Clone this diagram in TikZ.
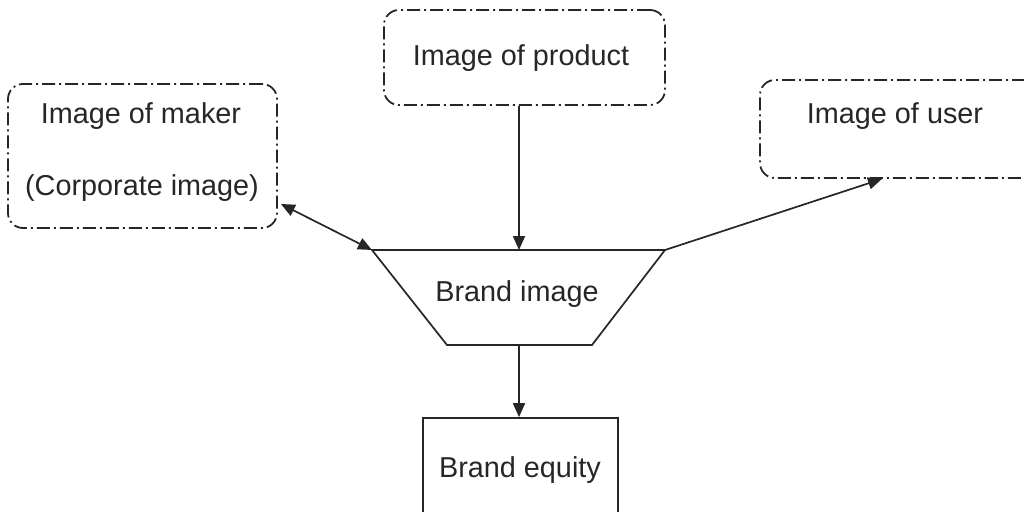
\documentclass[tikz,border=0pt]{standalone}
\usepackage{fontspec}
\setmainfont{Liberation Sans}
\usetikzlibrary{arrows.meta}
\definecolor{ink}{HTML}{262626}
\begin{document}
\begin{tikzpicture}[x=1pt,y=-1pt,
  dbox/.style={draw=ink, line width=1.8pt, rounded corners=15pt,
    dash pattern=on 13pt off 4pt on 2pt off 4pt, inner sep=0pt},
  sbox/.style={draw=ink, line width=1.7pt, inner sep=0pt},
  txt/.style={text=ink, font=\fontsize{28.8}{34}\selectfont, inner sep=0pt},
  arr/.style={draw=ink, line width=1.7pt, -{Triangle[length=14pt,width=12pt]}},
  arrb/.style={draw=ink, line width=1.7pt, {Triangle[length=14pt,width=12pt]}-{Triangle[length=14pt,width=12pt]}}]
\useasboundingbox (0,0) rectangle (1024,511);
\clip (0,0) rectangle (1024,511);
% boxes
\node[dbox, minimum width=281pt, minimum height=95pt] (prod) at (524.5,57.5) {};
\node[txt] (prodt) at (521,58) {Image of product};
\node[dbox, minimum width=269pt, minimum height=144pt] (maker) at (142.5,156) {};
\node[txt] (makert1) at (141,116) {Image of maker};
\node[txt] (makert2) at (142,188) {(Corporate image)};
\node[dbox, minimum width=280pt, minimum height=98pt] (user) at (900,129) {};
\node[txt] (usert) at (895,116) {Image of user};
% trapezoid
\coordinate (tl) at (372,250);
\coordinate (tr) at (665,250);
\coordinate (br) at (592,345);
\coordinate (bl) at (447,345);
\coordinate (ti) at (519,250);
\coordinate (bi) at (519,345);
\draw[draw=ink, line width=1.7pt, line join=miter] (tl) -- (tr) -- (br) -- (bl) -- cycle;
\node[txt] (brand) at (517,294) {Brand image};
% brand equity
\node[sbox, minimum width=195pt, minimum height=110pt] (eq) at (520.5,473) {};
\node[txt] (eqt) at (520,470) {Brand equity};
% connectors
\draw[arr] (prod.south -| ti) -- (ti);
\draw[arrb] ([yshift=-48pt,xshift=3pt]maker.east) -- (tl);
\draw[arr] (tr) -- ([xshift=-18pt]user.south);
\draw[arr] (bi) -- (bi |- eq.north);
\end{tikzpicture}
\end{document}
